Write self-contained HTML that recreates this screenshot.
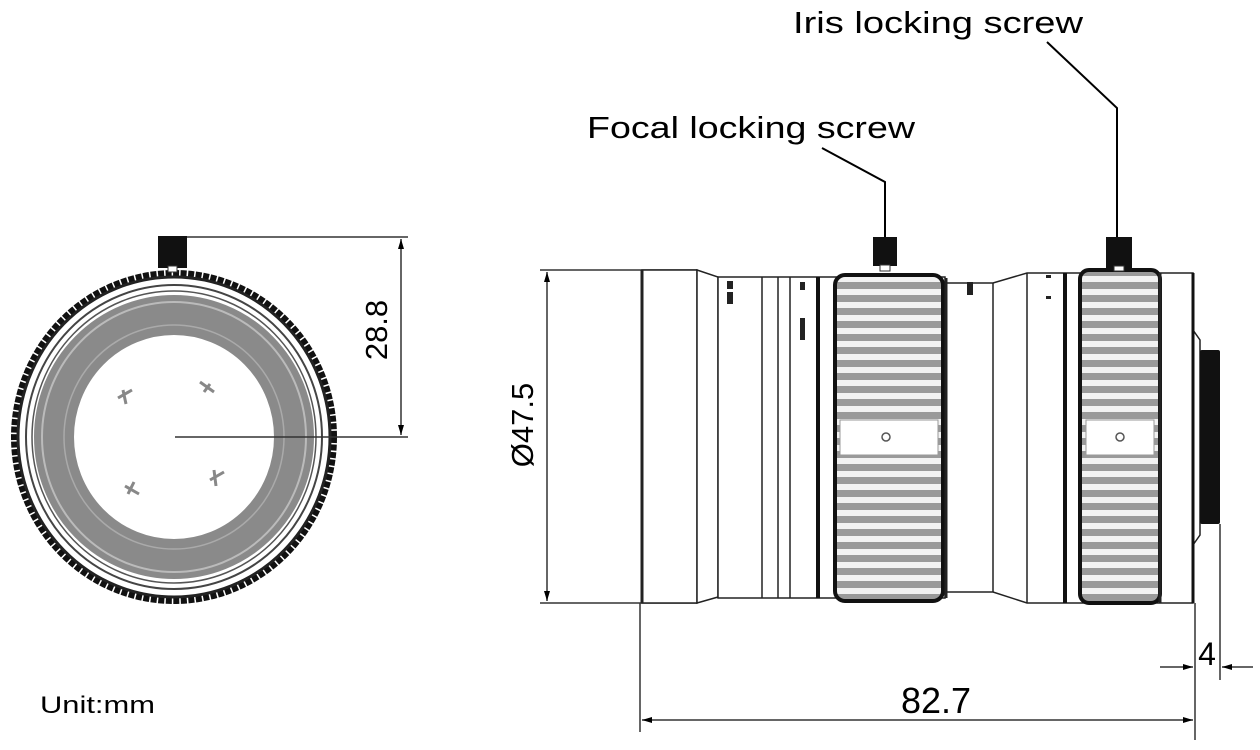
<!DOCTYPE html>
<html><head><meta charset="utf-8"><style>
html,body{margin:0;padding:0;background:#fff;}
svg{display:block;font-family:"Liberation Sans",Arial,sans-serif;}
</style></head><body>
<svg width="1260" height="750" viewBox="0 0 1260 750" xmlns="http://www.w3.org/2000/svg">
<defs>
<pattern id="kn" x="0" y="0" width="10" height="13" patternUnits="userSpaceOnUse">
<rect width="10" height="13" fill="#9a9a9a"/>
<rect y="3" width="10" height="6" fill="#f2f2f2"/>
</pattern>
<marker id="ar" markerWidth="10" markerHeight="8" refX="10" refY="4" orient="auto-start-reverse" markerUnits="userSpaceOnUse">
<path d="M0,1 L10,4 L0,7 z" fill="#000"/>
</marker>
</defs>

<!-- Left front view -->
<ellipse cx="174" cy="437" rx="159" ry="163" fill="#fff" stroke="#111" stroke-width="8" stroke-dasharray="6 1.5"/>
<ellipse cx="174" cy="437" rx="156" ry="160" fill="none" stroke="#222" stroke-width="3"/>
<ellipse cx="174" cy="437" rx="148" ry="152" fill="none" stroke="#444" stroke-width="2"/>
<ellipse cx="174" cy="437" rx="142" ry="146" fill="none" stroke="#555" stroke-width="1.5"/>
<ellipse cx="174" cy="437" rx="120" ry="122" fill="none" stroke="#8a8a8a" stroke-width="40"/>
<ellipse cx="174" cy="437" rx="132" ry="135" fill="none" stroke="#bbb" stroke-width="2"/>
<ellipse cx="174" cy="437" rx="110" ry="112" fill="none" stroke="#aaa" stroke-width="1.5"/>
<ellipse cx="174" cy="440" rx="98" ry="97" fill="#fff"/>
<g stroke="#888" stroke-width="3">
<path d="M118,398 l14,-8 M123,390 l3,14 M200,382 l14,10 M204,392 l6,-8 M125,486 l14,8 M128,494 l6,-12 M210,480 l14,-8 M214,470 l2,16"/>
</g>
<rect x="158" y="236" width="29" height="32" fill="#111"/>
<rect x="168" y="266" width="9" height="6" fill="#fff" stroke="#333"/>
<!-- 28.8 dim -->
<line x1="187" y1="237" x2="408" y2="237" stroke="#333" stroke-width="1.5"/>
<line x1="175" y1="437" x2="408" y2="437" stroke="#333" stroke-width="1.5"/>
<line x1="401" y1="239" x2="401" y2="435" stroke="#333" stroke-width="1.5" marker-start="url(#ar)" marker-end="url(#ar)"/>
<text transform="translate(387,330) rotate(-90)" font-size="31" text-anchor="middle">28.8</text>

<text x="40" y="713" font-size="24" textLength="115" lengthAdjust="spacingAndGlyphs">Unit:mm</text>

<!-- Right side view -->
<line x1="540" y1="270" x2="697" y2="270" stroke="#333" stroke-width="1.5"/>
<line x1="540" y1="603" x2="697" y2="603" stroke="#333" stroke-width="1.5"/>
<line x1="547" y1="272" x2="547" y2="601" stroke="#333" stroke-width="1.5" marker-start="url(#ar)" marker-end="url(#ar)"/>
<text transform="translate(533,425) rotate(-90)" font-size="31" text-anchor="middle">Ø47.5</text>

<g stroke="#222" fill="#fff" stroke-width="1.5">
<rect x="642" y="270" width="55" height="333"/>
<path d="M697,270 L718,277 L718,597 L697,603 z"/>
<rect x="718" y="277" width="227" height="321"/>
<line x1="762" y1="277" x2="762" y2="598"/>
<line x1="778" y1="277" x2="778" y2="598"/>
<line x1="790" y1="277" x2="790" y2="598"/>
<path d="M945,283 L993,283 L1027,273 L1193,273 L1193,603 L1027,603 L993,592 L945,592 z"/>
<line x1="993" y1="283" x2="993" y2="592"/>
<line x1="1027" y1="273" x2="1027" y2="603"/>
<path d="M1193,330 L1200,340 L1200,535 L1193,545"/>
</g>
<line x1="642" y1="270" x2="642" y2="603" stroke="#222" stroke-width="3"/>
<line x1="818" y1="277" x2="818" y2="598" stroke="#111" stroke-width="4"/>
<line x1="1065" y1="273" x2="1065" y2="603" stroke="#111" stroke-width="4"/>
<line x1="1193" y1="273" x2="1193" y2="603" stroke="#111" stroke-width="3"/>
<g fill="#222">
<rect x="727" y="281" width="6" height="8"/><rect x="727" y="292" width="6" height="12"/>
<rect x="800" y="282" width="5" height="8"/><rect x="800" y="318" width="5" height="22"/>
<rect x="967" y="282" width="6" height="13"/>
<rect x="1046" y="275" width="5" height="3"/><rect x="1046" y="296" width="5" height="3"/>
</g>
<rect x="835" y="275" width="108" height="326" rx="10" fill="url(#kn)" stroke="#111" stroke-width="4"/>
<rect x="840" y="420" width="98" height="35" fill="#fff" stroke="#999"/>
<circle cx="886" cy="437" r="4" fill="none" stroke="#555" stroke-width="1.5"/>
<line x1="946" y1="278" x2="946" y2="598" stroke="#222" stroke-width="3"/>
<rect x="1080" y="270" width="80" height="333" rx="9" fill="url(#kn)" stroke="#111" stroke-width="4"/>
<rect x="1086" y="420" width="68" height="35" fill="#fff" stroke="#999"/>
<circle cx="1120" cy="437" r="4" fill="none" stroke="#555" stroke-width="1.5"/>
<line x1="1160" y1="273" x2="1160" y2="603" stroke="#222" stroke-width="3"/>
<rect x="1200" y="350" width="20" height="174" rx="2" fill="#111"/>
<rect x="873" y="237" width="24" height="29" fill="#111"/>
<rect x="880" y="265" width="10" height="6" fill="#fff" stroke="#333"/>
<rect x="1106" y="237" width="26" height="31" fill="#111"/>
<rect x="1114" y="266" width="10" height="5" fill="#fff" stroke="#333"/>
<polyline points="822,148 885,182 885,237" fill="none" stroke="#000" stroke-width="2"/>
<polyline points="1047,42 1117,108 1117,237" fill="none" stroke="#000" stroke-width="2"/>
<text x="587" y="138" font-size="31" textLength="328" lengthAdjust="spacingAndGlyphs">Focal locking screw</text>
<text x="793" y="33" font-size="31" textLength="290" lengthAdjust="spacingAndGlyphs">Iris locking screw</text>

<line x1="640" y1="603" x2="640" y2="732" stroke="#333" stroke-width="1.5"/>
<line x1="1195" y1="603" x2="1195" y2="740" stroke="#333" stroke-width="1.5"/>
<line x1="642" y1="720" x2="1193" y2="720" stroke="#333" stroke-width="1.5" marker-start="url(#ar)" marker-end="url(#ar)"/>
<text x="936" y="713" font-size="36" text-anchor="middle">82.7</text>
<line x1="1220" y1="524" x2="1220" y2="680" stroke="#333" stroke-width="1.5"/>
<line x1="1160" y1="667" x2="1193" y2="667" stroke="#333" stroke-width="1.5" marker-end="url(#ar)"/>
<line x1="1253" y1="667" x2="1222" y2="667" stroke="#333" stroke-width="1.5" marker-end="url(#ar)"/>
<text x="1207" y="665" font-size="32" text-anchor="middle">4</text>
</svg>
</body></html>
